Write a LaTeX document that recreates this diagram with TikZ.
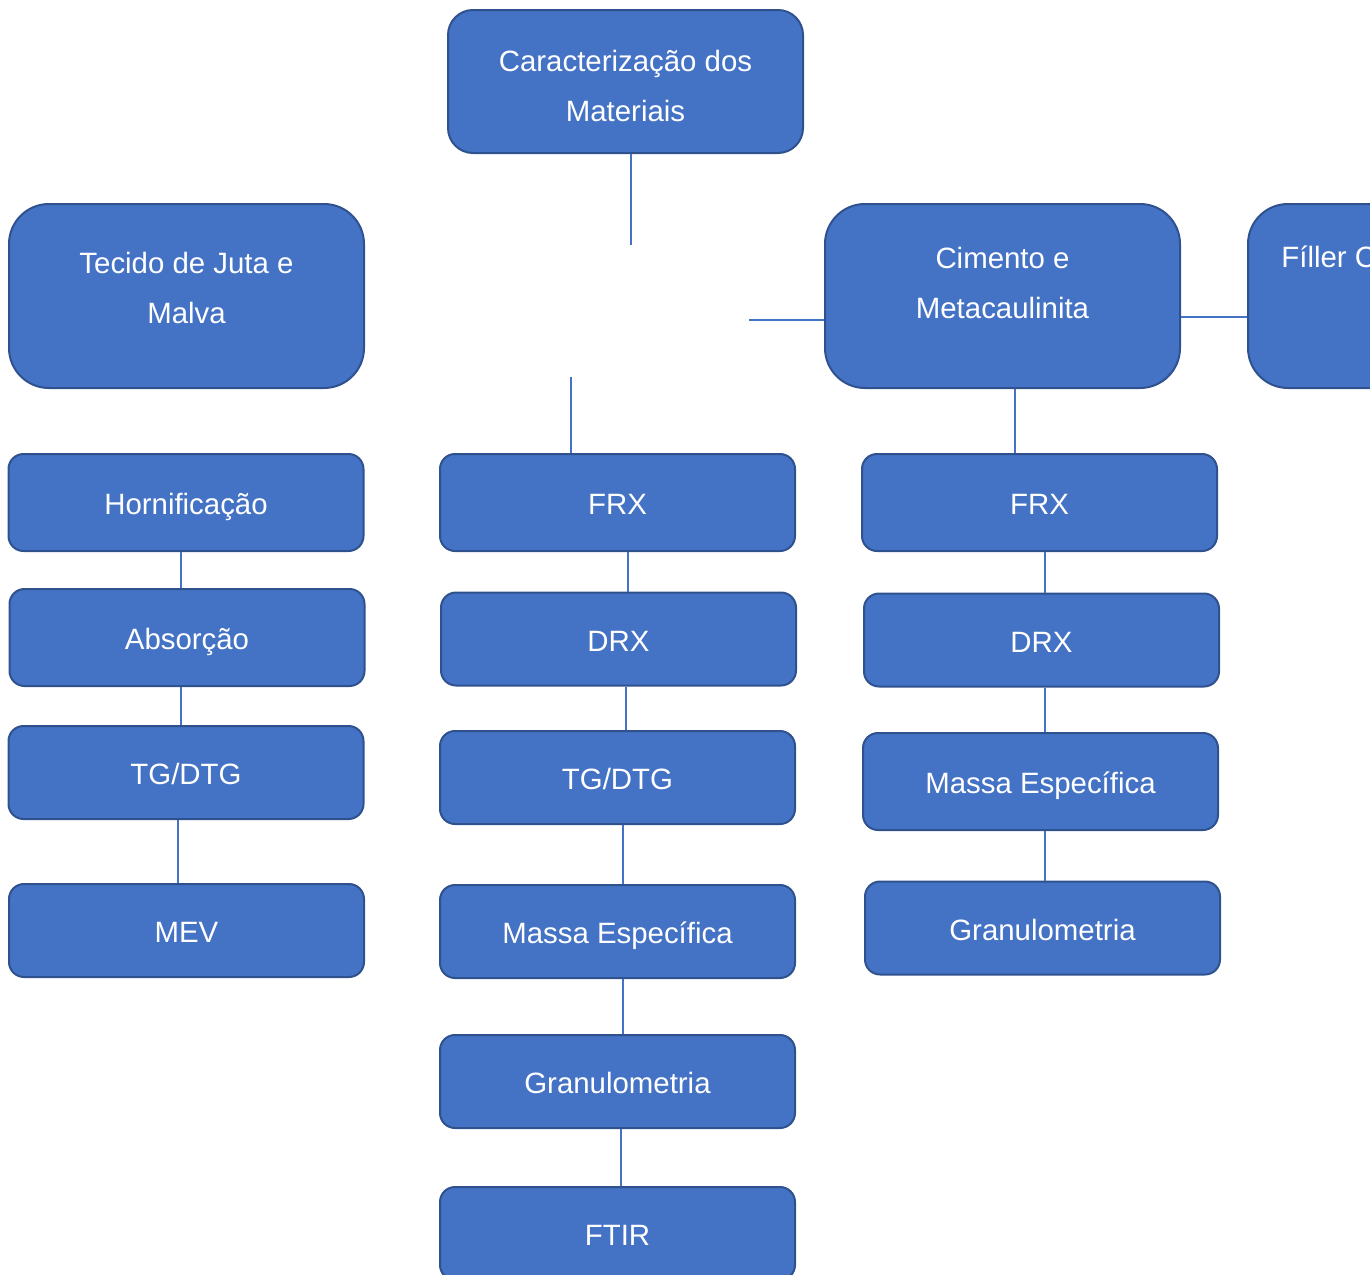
\documentclass[tikz,border=0pt]{standalone}
\usepackage{fontspec}
\setmainfont{Liberation Sans}
\usepackage{xcolor}
\usepackage{tikz}
\definecolor{boxfill}{HTML}{4472C4}
\definecolor{boxline}{HTML}{2F528F}
\begin{document}
\begin{tikzpicture}[x=0.5pt,y=-0.5pt,
      box text/.style={text=white,align=center,inner sep=0pt,
        font=\fontsize{14.7}{25}\selectfont},
      box/.style={rectangle,draw=boxline,fill=boxfill,line width=1pt,
        rounded corners=7.5pt,minimum width=177.5pt,minimum height=46.5pt,
        box text,text height=15pt,text depth=3pt},
      tall box/.style={box,minimum height=92pt,rounded corners=20pt},
      link/.style={draw=boxfill,line width=0.75pt}]

      \useasboundingbox (0,0) rectangle (1370,1274);

      % top level
      \node[box,minimum height=71.5pt,rounded corners=12.5pt,
        label={[box text,yshift=-2.25pt]center:Caracterização dos\\Materiais}] (top) at (625.5,81.5) {};
      \node[tall box,label={[box text,yshift=4pt]center:Tecido de Juta e\\Malva}] (tecido) at (186.5,296) {};
      \node[tall box,label={[box text,yshift=6.75pt]center:Cimento e\\Metacaulinita}] (cim) at (1002.5,296) {};
      \node[tall box] (filler) at (1425.5,296) {};
      \node[box text,anchor=base west] (fillertxt) at (1281,267) {Fíller C};

      % fibres
      \node[box,minimum height=48.5pt] (horn) at (186,502.5) {Hornificação};
      \node[box,minimum height=48.5pt] (abs) at (187,637.5) {Absorção};
      \node[box] (tgL) at (186,772.5) {TG/DTG};
      \node[box] (mev) at (186.5,930.5) {MEV};

      % middle column
      \node[box,minimum height=48.5pt] (frxM) at (617.5,502.5) {FRX};
      \node[box] (drxM) at (618.5,639) {DRX};
      \node[box] (tgM) at (617.5,777.5) {TG/DTG};
      \node[box] (massaM) at (617.5,931.5) {Massa Específica};
      \node[box] (granM) at (617.5,1081.5) {Granulometria};
      \node[box] (ftir) at (617.5,1233.5) {FTIR};

      % cement column
      \node[box,minimum height=48.5pt] (frxR) at (1039.5,502.5) {FRX};
      \node[box] (drxR) at (1041.5,640) {DRX};
      \node[box,minimum height=48.5pt] (massaR) at (1040.5,781.5) {Massa Específica};
      \node[box] (granR) at (1042.5,928) {Granulometria};

      % loose stubs
      \coordinate (topstub) at (631,245);
      \coordinate (cimstub) at (749,320);
      \coordinate (frxstub) at (571,377);
      \draw[link] (topstub |- top.south) -- (topstub);
      \draw[link] (cimstub) -- (cimstub -| cim.west);
      \draw[link] (frxstub) -- (frxstub |- frxM.north);
      \draw[link] ([yshift=-10.5pt]cim.east) -- ([yshift=-10.5pt]filler.west);

      \foreach \x/\a/\b in {181/horn/abs,181/abs/tgL,178/tgL/mev,
          628/frxM/drxM,626/drxM/tgM,623/tgM/massaM,623/massaM/granM,621/granM/ftir,
          1015/cim/frxR,1045/frxR/drxR,1045/drxR/massaR,1045/massaR/granR}
        \draw[link] (\x,0 |- \a.south) -- (\x,0 |- \b.north);
    \end{tikzpicture}
\end{document}
